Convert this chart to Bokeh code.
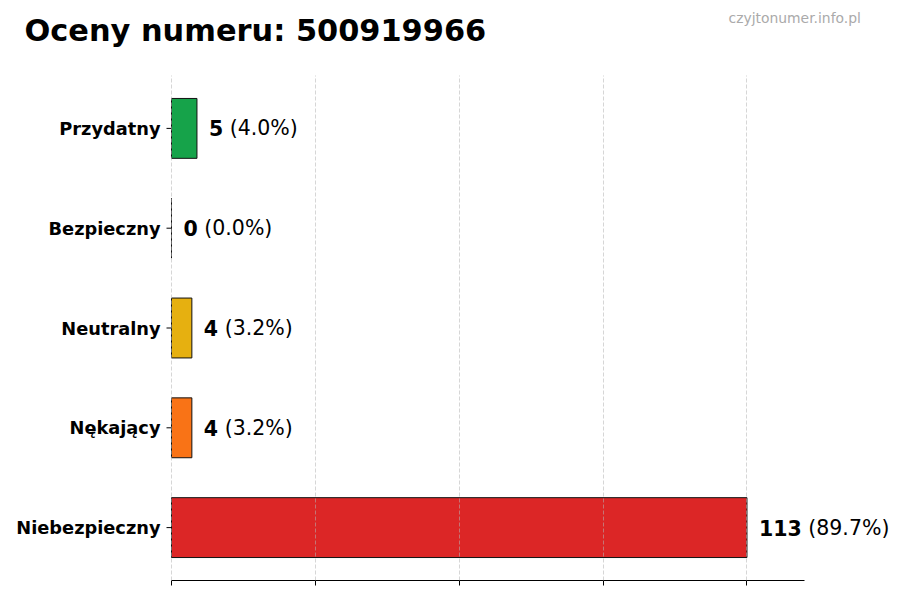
import math
from bokeh.plotting import figure, ColumnDataSource
from bokeh.models import Range1d, FixedTicker, Label
from bokeh.core.properties import value
from bokeh.embed import file_html
from bokeh.resources import INLINE

# data (top to bottom as in the picture)
categories = ["Przydatny", "Bezpieczny", "Neutralny", "Nękający", "Niebezpieczny"]
counts = [5, 0, 4, 4, 113]
bar_colors = ["#16a34a", "#3b82f6", "#e6b010", "#f97316", "#dc2626"]
title_text = "Oceny numeru: 500919966"
site_text = "czyjtonumer.info.pl"

FONT = "DejaVu Sans"
W, H = 900, 600
total = sum(counts)
max_count = max(counts)
n = len(categories)

# layout in pixels (frame covers the whole canvas above the x axis)
zero_px = 171          # where the value 0 sits
axis_end_px = 804      # right end of the x axis line
bottom_px = 20         # space for the x axis below the frame
top_pad_px = 75        # space above the first row
row_pad = 0.53         # rows padding at the ends (in row units)

x_end = max_count * 1.1
px_per_unit = (axis_end_px - zero_px) / x_end
x_start = -zero_px / px_per_unit
x_stop = (W - zero_px) / px_per_unit

frame_h = H - bottom_px
row_px = (frame_h - top_pad_px) / (n - 1 + 2 * row_pad)
y_start = -row_pad
y_stop = (n - 1) + row_pad + top_pad_px / row_px

ypos = [n - 1 - i for i in range(n)]

count_px = 20.5
pct_offsets = [12 + len(str(c)) * 0.696 * count_px + 0.318 * count_px for c in counts]

source = ColumnDataSource(dict(
    y=ypos,
    cat=categories,
    count=counts,
    color=bar_colors,
    count_txt=[str(c) for c in counts],
    pct_txt=["(%.1f%%)" % (c / total * 100) for c in counts],
    pct_off=pct_offsets,
))

p = figure(width=W, height=H,
           x_range=Range1d(x_start, x_stop), y_range=Range1d(y_start, y_stop),
           output_backend="svg", toolbar_location=None, title=None,
           min_border_left=0, min_border_right=0,
           min_border_top=0, min_border_bottom=bottom_px)
p.outline_line_color = None
p.yaxis.visible = False

# bars
p.hbar(y="y", left=0, right="count", height=0.6, source=source,
       fill_color="color", line_color="#111111", line_width=1)

# value labels: bold count, then the percentage
p.text(x="count", y="y", text="count_txt", source=source,
       x_offset=12, text_baseline="middle", text_align="left",
       text_font=value(FONT), text_font_style="bold",
       text_font_size="%spx" % count_px, text_color="black")
p.text(x="count", y="y", text="pct_txt", source=source,
       x_offset="pct_off", text_baseline="middle", text_align="left",
       text_font=value(FONT), text_font_size="%spx" % count_px,
       text_color="black")

# category names with their small tick marks
p.text(x=0, y="y", text="cat", source=source, x_offset=-11,
       text_baseline="middle", text_align="right",
       text_font=value(FONT), text_font_style="bold",
       text_font_size="17.8px", text_color="black")
p.ray(x=0, y="y", length=5, length_units="screen", angle=math.pi,
      source=source, line_color="black", line_width=1)

# x axis: line and ticks only
ticks = [max_count * i / 4 for i in range(5)]
p.xaxis.ticker = FixedTicker(ticks=ticks)
p.xaxis.bounds = (0, x_end)
p.xaxis.major_label_overrides = {t: "" for t in ticks}
p.xaxis.major_tick_out = 5
p.xaxis.major_tick_in = 0
p.xaxis.minor_tick_line_color = None
p.xaxis.axis_line_color = "black"

p.xgrid.ticker = FixedTicker(ticks=ticks)
p.xgrid.cross_bounds = (y_start, (n - 1) + row_pad)
p.xgrid.grid_line_color = "#b5b5b5"
p.xgrid.grid_line_alpha = 0.55
p.xgrid.grid_line_dash = "4 2"
p.xgrid.level = "overlay"
p.ygrid.grid_line_color = None

# title and site name
p.add_layout(Label(x=24, y=frame_h - 30, x_units="screen", y_units="screen",
                   text=title_text, text_font=FONT, text_font_style="bold",
                   text_font_size="30.4px", text_color="black",
                   text_baseline="middle"))
p.add_layout(Label(x=728, y=frame_h - 17, x_units="screen", y_units="screen",
                   text=site_text, text_font=FONT, text_font_size="13.9px",
                   text_color="#aaaaaa", text_baseline="middle"))

open("out.html", "w").write(file_html(p, INLINE))
